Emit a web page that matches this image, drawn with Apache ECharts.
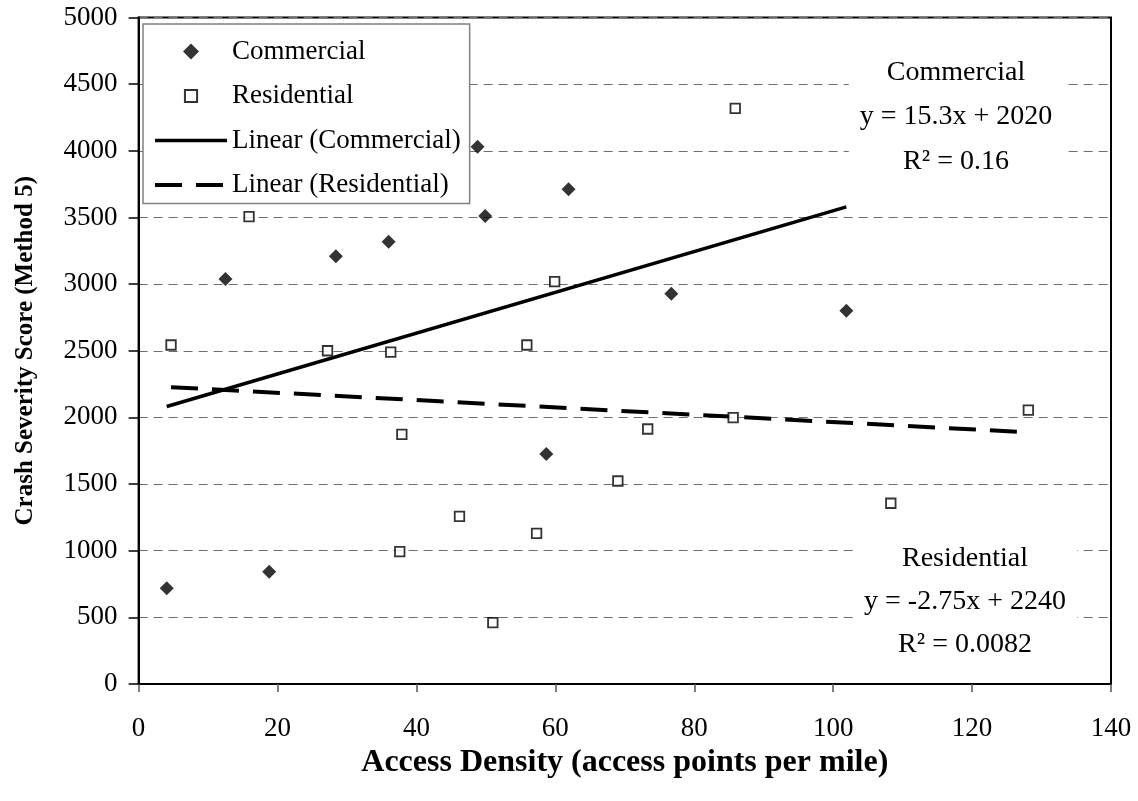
<!DOCTYPE html>
<html>
<head>
<meta charset="utf-8">
<script src="https://cdn.jsdelivr.net/npm/echarts@6/dist/echarts.min.js"></script>
<style>
html,body{margin:0;padding:0;background:#fff;}
#chart{width:1138px;height:801px;}
</style>
</head>
<body>
<div id="chart"></div>
<script>
// ---- data ----
const commercialX = [4.05, 12.5, 18.8, 28.4, 36.0, 48.8, 49.9, 58.7, 61.9, 76.7, 101.9];
const commercialY = [718, 3038, 842, 3208, 3318, 4031, 3511, 1725, 3711, 2928, 2800];
const residentialX = [4.67, 15.9, 27.2, 36.3, 37.9, 37.6, 46.2, 51.0, 55.9, 57.3, 59.9, 69.0, 73.3, 85.6, 85.9, 108.3, 128.1];
const residentialY = [2543, 3506, 2500, 2490, 1873, 993, 1258, 460, 2543, 1130, 3018, 1523, 1913, 1998, 4318, 1356, 2055];
const commercialTrendX = [4.05, 101.9];
const commercialTrendY = [2082, 3579];
const residentialTrendX = [4.67, 128.1];
const residentialTrendY = [2227, 1888];
const seriesNames = ['Commercial', 'Residential', 'Linear (Commercial)', 'Linear (Residential)'];
const commercialNote = ['Commercial', 'y = 15.3x + 2020', 'R\u00b2 = 0.16'];
const residentialNote = ['Residential', 'y = -2.75x + 2240', 'R\u00b2 = 0.0082'];
const xTitle = 'Access Density (access points per mile)';
const yTitle = 'Crash Severity Score (Method 5)';

const FONT = "'Liberation Serif', 'Times New Roman', serif";
const zip = (xs, ys) => xs.map((x, i) => [x, ys[i]]);

const DASH = [27, 14];
const chart = echarts.init(document.getElementById('chart'), null, {renderer: 'canvas'});
chart.setOption({
  backgroundColor: '#fff',
  animation: false,
  textStyle: {fontFamily: FONT},
  grid: {left: 138.6, right: 27, top: 17.5, bottom: 117, show: true, borderColor: '#000', borderWidth: 2, backgroundColor: 'transparent'},
  xAxis: {
    type: 'value', min: 0, max: 140, interval: 20,
    axisLine: {show: true, onZero: false, lineStyle: {color: '#000', width: 2}},
    axisTick: {show: true, inside: false, length: 8, lineStyle: {color: '#555', width: 1.5}},
    axisLabel: {color: '#000', fontSize: 27, fontFamily: FONT, margin: 31, formatter: v => String(v)},
    splitLine: {show: false},
    name: xTitle, nameLocation: 'middle', nameGap: 54,
    nameTextStyle: {color: '#000', fontSize: 32, fontWeight: 'bold', fontFamily: FONT}
  },
  yAxis: {
    type: 'value', min: 0, max: 5000, interval: 500,
    axisLine: {show: true, onZero: false, lineStyle: {color: '#000', width: 2}},
    axisTick: {show: true, inside: false, length: 10, lineStyle: {color: '#000', width: 1.5}},
    axisLabel: {color: '#000', fontSize: 27, fontFamily: FONT, margin: 21, formatter: v => String(v)},
    splitLine: {show: true, lineStyle: {color: '#6e6e6e', width: 1, type: [9, 6]}},
    name: yTitle, nameLocation: 'middle', nameGap: 101,
    nameTextStyle: {color: '#000', fontSize: 25, fontWeight: 'bold', fontFamily: FONT}
  },
  legend: {
    orient: 'vertical', left: 143, top: 24,
    padding: [14, 9, 5, 10],
    backgroundColor: '#fff', borderColor: '#808080', borderWidth: 1.5, borderRadius: 0,
    itemWidth: 72, itemHeight: 16, itemGap: 17.5, itemTextGap: 8,
    symbolKeepAspect: true,
    textStyle: {color: '#000', fontSize: 27, fontFamily: FONT},
    data: [
      {name: seriesNames[0], icon: 'path://M0,-1L1,0L0,1L-1,0Z'},
      {name: seriesNames[1], icon: 'path://M0,0L0,0M1,1L1,1M0.12,0.12L0.88,0.12L0.88,0.88L0.12,0.88Z'},
      {name: seriesNames[2], itemStyle: {opacity: 0}, lineStyle: {width: 3.5, type: 'solid', color: '#000'}},
      {name: seriesNames[3], itemStyle: {opacity: 0}, lineStyle: {width: 4, type: DASH, color: '#000'}}
    ]
  },
  series: [
    {
      name: seriesNames[2], type: 'line', data: zip(commercialTrendX, commercialTrendY),
      symbol: 'none', z: 2,
      lineStyle: {color: '#000', width: 3.5, type: 'solid'}, itemStyle: {color: '#000'}
    },
    {
      name: seriesNames[3], type: 'line', data: zip(residentialTrendX, residentialTrendY),
      symbol: 'none', z: 2,
      lineStyle: {color: '#000', width: 4, type: DASH}, itemStyle: {color: '#000'}
    },
    {
      name: seriesNames[0], type: 'scatter', data: zip(commercialX, commercialY),
      symbol: 'diamond', symbolSize: 14, z: 4,
      itemStyle: {color: '#000', borderWidth: 0}
    },
    {
      name: seriesNames[1], type: 'scatter', data: zip(residentialX, residentialY),
      symbol: 'rect', symbolSize: 9.5, z: 4,
      itemStyle: {color: '#fff', borderColor: '#000', borderWidth: 1.8}
    }
  ],
  graphic: [
    {
      type: 'text', x: 956, y: 46, z: 10,
      style: {
        text: commercialNote.join('\n'), font: '28px ' + FONT, fill: '#000',
        align: 'center', verticalAlign: 'top', lineHeight: 44.5,
        backgroundColor: '#fff', padding: [4, 11, 4, 11]
      }
    },
    {
      type: 'text', x: 965, y: 533, z: 10,
      style: {
        text: residentialNote.join('\n'), font: '28px ' + FONT, fill: '#000',
        align: 'center', verticalAlign: 'top', lineHeight: 43,
        backgroundColor: '#fff', padding: [4, 11, 4, 11]
      }
    }
  ]
});
</script>
</body>
</html>
